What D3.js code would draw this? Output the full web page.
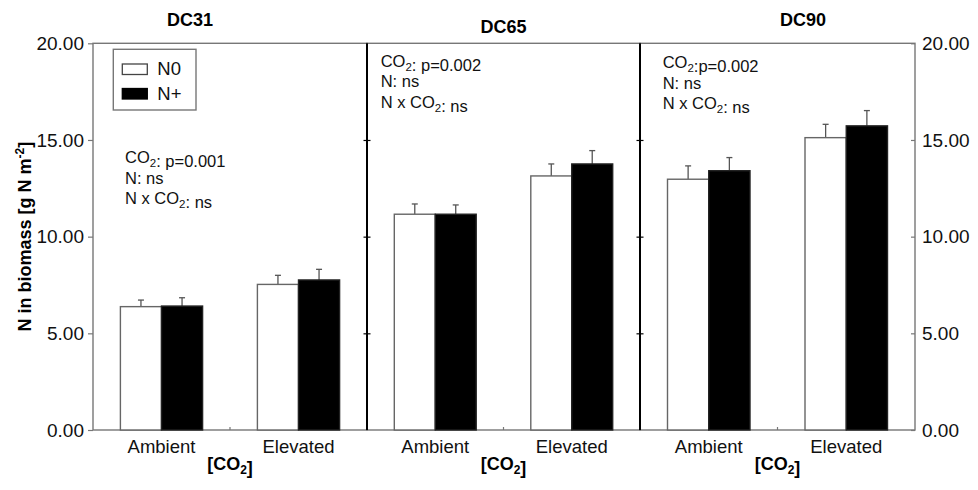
<!DOCTYPE html>
<html>
<head>
<meta charset="utf-8">
<script src="https://cdn.jsdelivr.net/npm/d3@7"></script>
<style>
  body { margin: 0; background: #fff; }
  svg { display: block; font-family: "Liberation Sans", Arial, sans-serif; }
</style>
</head>
<body>
<svg id="chart" width="978" height="490"></svg>
<script>
// data
const panelNames = ["DC31", "DC65", "DC90"];
const co2Levels = ["Ambient", "Elevated"];
const nLevels = ["N0", "N+"];
const meanN0 = [[6.38, 7.53], [11.16, 13.14], [12.97, 15.12]];
const meanNplus = [[6.41, 7.76], [11.16, 13.76], [13.41, 15.73]];
const errN0 = [[0.34, 0.47], [0.53, 0.62], [0.69, 0.69]];
const errNplus = [[0.43, 0.55], [0.48, 0.69], [0.68, 0.79]];
const yTicks = [0, 5, 10, 15, 20];
const statsText = [
    ["CO₂: p=0.001", "N: ns", "N x CO₂: ns"],
    ["CO₂: p=0.002", "N: ns", "N x CO₂: ns"],
    ["CO₂:p=0.002", "N: ns", "N x CO₂: ns"]
];

const width = 978, height = 490;
const plotTop = 43.3, plotBottom = 430;
const panelEdges = [93, 367, 640, 915];

const svg = d3.select('#chart');

const y = d3.scaleLinear()
    .domain([0, 20])
    .range([plotBottom, plotTop]);

// text with a subscript 2 for CO2
function subText(sel, str, subSize) {
    const parts = str.split("₂");
    parts.forEach((p, i) => {
        sel.append("tspan").text(p);
        if (i < parts.length - 1) {
            sel.append("tspan")
                .attr("font-size", subSize)
                .attr("dy", 4)
                .text("2");
            sel.append("tspan").attr("dy", -4).text("");
        }
    });
}

const titlePos = [{ dx: -40, y: 25.7 }, { dx: 0, y: 33.3 }, { dx: 25.5, y: 25.7 }];
const statsPos = [{ x: 125, y: 163.3 }, { x: 380.7, y: 66.7 }, { x: 662.7, y: 68.3 }];

panelNames.forEach((name, p) => {
    const x0 = panelEdges[p], x1 = panelEdges[p + 1];

    const x = d3.scaleBand()
        .domain(co2Levels)
        .range([x0, x1])
        .paddingInner(0.4)
        .paddingOuter(0.2);

    const xSub = d3.scaleBand()
        .domain(nLevels)
        .range([0, x.bandwidth()]);

    const g = svg.append("g");

    // frame
    g.append("rect")
        .attr("x", x0).attr("y", plotTop)
        .attr("width", x1 - x0).attr("height", plotBottom - plotTop)
        .attr("fill", "none")
        .attr("stroke", "#777")
        .attr("stroke-width", 1.4);

    // bars
    const rows = [];
    co2Levels.forEach((c, i) => {
        rows.push({ c, n: "N0", v: meanN0[p][i], e: errN0[p][i] });
        rows.push({ c, n: "N+", v: meanNplus[p][i], e: errNplus[p][i] });
    });

    // error bars first so they sit behind bar tops
    const eb = g.selectAll("g.err")
        .data(rows)
        .enter()
        .append("g")
        .attr("stroke", "#555")
        .attr("stroke-width", 1.3);
    eb.append("line")
        .attr("x1", d => x(d.c) + xSub(d.n) + xSub.bandwidth() / 2)
        .attr("x2", d => x(d.c) + xSub(d.n) + xSub.bandwidth() / 2)
        .attr("y1", d => y(d.v))
        .attr("y2", d => y(d.v + d.e));
    eb.append("line")
        .attr("x1", d => x(d.c) + xSub(d.n) + xSub.bandwidth() / 2 - 3)
        .attr("x2", d => x(d.c) + xSub(d.n) + xSub.bandwidth() / 2 + 3)
        .attr("y1", d => y(d.v + d.e))
        .attr("y2", d => y(d.v + d.e));

    g.selectAll("rect.bar")
        .data(rows)
        .enter()
        .append("rect")
        .attr("x", d => x(d.c) + xSub(d.n))
        .attr("y", d => y(d.v))
        .attr("width", xSub.bandwidth())
        .attr("height", d => y(0) - y(d.v))
        .attr("fill", d => d.n === "N0" ? "#fff" : "#000")
        .attr("stroke", d => d.n === "N0" ? "#666" : "#222")
        .attr("stroke-width", 1.4);

    // x axis labels
    const xAxisGroup = g.append("g")
        .attr("transform", `translate(0,${plotBottom})`)
        .call(d3.axisBottom(x).tickSize(0).tickPadding(9.6));
    xAxisGroup.select(".domain").remove();
    xAxisGroup.selectAll("text")
        .style("font-size", "18.5px")
        .style("fill", "#111");

    // small tick between the two groups
    g.append("line")
        .attr("x1", (x0 + x1) / 2).attr("x2", (x0 + x1) / 2)
        .attr("y1", plotBottom).attr("y2", plotBottom - 3)
        .attr("stroke", "#777")
        .attr("stroke-width", 1.2);

    // x title
    const xt = g.append("text")
        .attr("x", (x0 + x1) / 2)
        .attr("y", 470)
        .attr("text-anchor", "middle")
        .style("font-size", "18px")
        .style("font-weight", "bold");
    subText(xt, "[CO₂]", "12px");

    // panel title
    g.append("text")
        .attr("x", (x0 + x1) / 2 + titlePos[p].dx)
        .attr("y", titlePos[p].y)
        .attr("text-anchor", "middle")
        .style("font-size", "18px")
        .style("font-weight", "bold")
        .text(name);

    // statistics
    statsText[p].forEach((line, k) => {
        const t = g.append("text")
            .attr("x", statsPos[p].x)
            .attr("y", statsPos[p].y + k * 20.5)
            .style("font-size", "16.5px")
            .style("fill", "#111");
        subText(t, line, "11.5px");
    });
});

// dividers between panels
[panelEdges[1], panelEdges[2]].forEach(xd => {
    svg.append("line")
        .attr("x1", xd).attr("x2", xd)
        .attr("y1", plotTop).attr("y2", plotBottom)
        .attr("stroke", "#000")
        .attr("stroke-width", 2);
    const tk = svg.append("g")
        .attr("transform", `translate(${xd + 3.5},0)`)
        .call(d3.axisLeft(y).tickValues(yTicks.slice(1, -1)).tickSize(7).tickFormat(""));
    tk.select(".domain").remove();
    tk.selectAll("line").attr("stroke", "#000").attr("stroke-width", 1.2);
});

// left axis
const yAxisLeft = svg.append("g")
    .attr("transform", `translate(${panelEdges[0]},0)`)
    .call(d3.axisLeft(y).tickValues(yTicks).tickFormat(d3.format(".2f")).tickSize(5).tickPadding(4));
yAxisLeft.select(".domain").remove();
yAxisLeft.selectAll("line").attr("stroke", "#777").attr("stroke-width", 1.2);
yAxisLeft.selectAll("text").style("font-size", "19px").style("fill", "#111");

// right axis
const yAxisRight = svg.append("g")
    .attr("transform", `translate(${panelEdges[3]},0)`)
    .call(d3.axisRight(y).tickValues(yTicks).tickFormat(d3.format(".2f")).tickSizeInner(-4).tickSizeOuter(0).tickPadding(7));
yAxisRight.select(".domain").remove();
yAxisRight.selectAll("line").attr("stroke", "#777").attr("stroke-width", 1.2);
yAxisRight.selectAll("text").style("font-size", "19px").style("fill", "#111");

// y title
const yt = svg.append("text")
    .attr("transform", `translate(31,${(plotTop + plotBottom) / 2}) rotate(-90)`)
    .attr("text-anchor", "middle")
    .style("font-size", "18px")
    .style("font-weight", "bold");
yt.append("tspan").text("N in biomass [g N m");
yt.append("tspan").attr("font-size", "12px").attr("dy", -7).text("-2");
yt.append("tspan").attr("dy", 7).text("]");

// legend
const legend = svg.append("g");
legend.append("rect")
    .attr("x", 113.3).attr("y", 49.3)
    .attr("width", 82.7).attr("height", 60.7)
    .attr("fill", "#fff")
    .attr("stroke", "#777")
    .attr("stroke-width", 1.4);
nLevels.forEach((n, i) => {
    legend.append("rect")
        .attr("x", 122.3).attr("y", 64 + i * 24.5)
        .attr("width", 25).attr("height", 10.5)
        .attr("fill", n === "N0" ? "#fff" : "#000")
        .attr("stroke", n === "N0" ? "#444" : "#000")
        .attr("stroke-width", 1.3);
    legend.append("text")
        .attr("x", 157.3).attr("y", 75 + i * 24.5)
        .style("font-size", "18.5px")
        .style("fill", "#111")
        .text(n);
});
</script>
</body>
</html>
